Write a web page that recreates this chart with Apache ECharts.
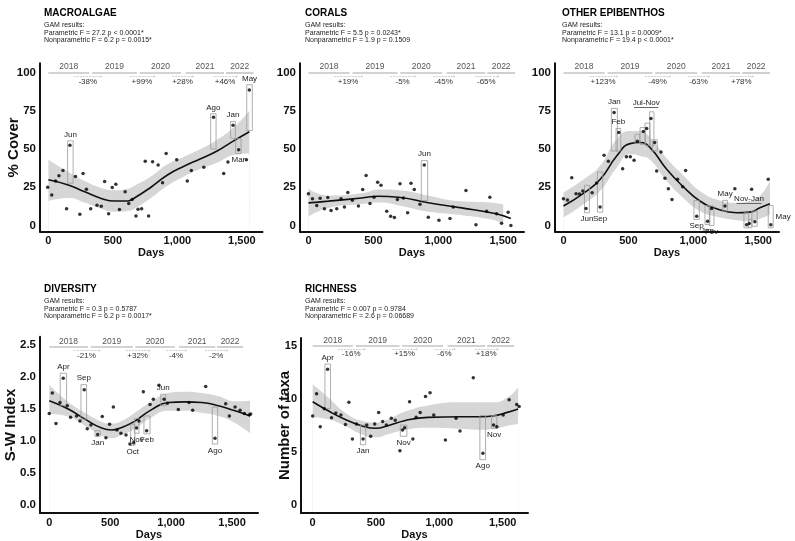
<!DOCTYPE html>
<html lang="en">
<head>
<meta charset="UTF-8">
<script src="https://cdn.jsdelivr.net/npm/echarts@6/dist/echarts.min.js"></script>
<title>GAM time series</title>
<style>
  html, body { margin: 0; padding: 0; background: #fff; }
  #main { width: 795px; height: 541px; }
</style>
</head>
<body>
<div id="main"></div>
<script>
// ---- shared axis stuff ----
const dayTicks = [0, 500, 1000, 1500];
const coverTicks = [0, 25, 50, 75, 100];
const swTicks = [0, 0.5, 1, 1.5, 2, 2.5];
const taxaTicks = [0, 5, 10, 15];
const yearLabels = ['2018', '2019', '2020', '2021', '2022'];
const yearSpans = [[0, 317], [340, 686], [707, 1030], [1065, 1362], [1377, 1591]];
const pctSpans = [[200, 410], [630, 820], [960, 1120], [1280, 1460]];

// ---- MACROALGAE ----
const macroPoints = [[-5,25],[26,20],[56,29],[82,32.5],[113,36],[141,11],[167,52.4],[210,32],[244,7.3],[269,34],[295,23.7],[328,11],[377,13.3],[410,12.6],[436,28.8],[467,7.7],[495,24.8],[523,27],[551,10.4],[595,22],[623,14.4],[649,17],[679,6.2],[695,10.6],[723,11],[751,42],[777,6.2],[808,41.6],[851,39.6],[885,28],[913,47],[995,43],[1077,29],[1108,36],[1205,38],[1280,70.8],[1359,34],[1392,41.5],[1432,65.5],[1475,49.5],[1535,43],[1558,88.6]];
const macroFitDays = [0,154,282,410,513,615,667,795,923,1051,1180,1308,1436,1558];
const macroFit = [29.9,26.5,22,17.7,16,16,18,25,33,38.7,43.6,48.7,55.3,61.3];
const macroUpper = [43,35,29,24.5,23,24,26,32,40,45,50,56,64,75];
const macroLower = [16,18,15,11,9,9.5,11,18,26,32,37,41,46,47];
const macroBoxes = [[149,192,55.3,27.7,'Jun','top'],[1258,1300,73,50,'Ago','top'],[1413,1450,68,57,'Jan','top'],[1452,1494,56.8,47,'Mar','bottom'],[1538,1581,92,62,'May','top']];
const macroPct = ['-38%', '+99%', '+28%', '+46%'];

// ---- CORALS ----
const coralPoints = [[0,20.7],[31,17.4],[64,13],[90,17.8],[123,10.9],[149,18.3],[174,9.8],[218,11],[251,17.4],[277,12],[303,21.5],[338,16.5],[385,12.8],[418,23.5],[444,32.6],[474,14.3],[505,18.5],[533,28.3],[559,26.3],[603,9.3],[633,6.1],[662,5.2],[685,17],[705,27.2],[731,18],[764,8.3],[790,27.6],[815,23.5],[859,13.9],[892,39.6],[923,5.4],[1005,3.5],[1090,4.6],[1115,12],[1213,22.8],[1290,0.4],[1372,9.3],[1397,18.5],[1449,7.6],[1487,1.5],[1538,8.7],[1559,0]];
const coralFitDays = [0,154,410,538,692,923,1180,1436,1559];
const coralFit = [14.8,15.9,18,19.1,18.5,14.8,11.5,7.8,4.6];
const coralBandDays = [0,154,410,550,700,900,1150,1400,1500];
const coralUpper = [24,19.5,21,23.5,23,20,16,15,13.7];
const coralLower = [6,11.5,14,15,13,9.3,7,4,1.3];
const coralBoxes = [[869,918,42.4,16.3,'Jun','top']];
const coralPct = ['+19%', '-5%', '-45%', '-65%'];

// ---- OTHER EPIBENTHOS ----
const epiPoints = [[0,17.5],[31,16.6],[64,31.2],[97,20.8],[123,20.5],[149,22.5],[174,11.1],[221,21.4],[256,27.7],[282,12],[313,45.9],[346,42],[390,73.9],[426,60.7],[456,37.1],[485,45],[515,45],[544,42.6],[569,55],[615,61.4],[641,63.4],[674,69.9],[703,54.2],[718,35.6],[751,48],[782,30.8],[808,24],[836,17],[879,30.2],[918,25.3],[941,36],[1026,6.1],[1110,2.8],[1141,11.1],[1244,12.7],[1320,24],[1410,0.4],[1431,1.3],[1449,23.6],[1474,2.4],[1577,30.2],[1597,0.4]];
const epiFitDays = [0,154,282,410,513,590,667,795,923,1051,1180,1333,1436,1513,1590];
const epiFit = [12.7,21,30,45.4,53.5,54.2,50.9,36.7,25.3,16,10.9,8.3,8.7,11.6,14.2];
const epiUpper = [21.4,30,39,56.4,61.8,61.8,57.5,44,32.8,22.5,17,14.9,16,19.2,29];
const epiLower = [5,13.8,22.5,37.8,46.5,45.4,43,29,18,9.4,5.7,3.5,2.8,4.4,7.2];
const epiBoxes = [[162,200,26.2,8.3,'Jun','bottom'],[262,303,35,8.7,'Sep','bottom'],[369,415,76.5,48.7,'Jan','top'],[405,441,63.4,48.7,'Feb','top'],
  [551,587,59.6,53.8,'',''],[590,631,64,53,'',''],[628,667,66.9,52.4,'',''],[664,697,74.3,52,'',''],[685,723,56,48.7,'',''],
  [1005,1046,16.4,3.9,'Sep','bottom'],[1090,1128,13,0.7,'Jan','bottom'],[1123,1159,12.7,0,'Fev','bottom'],[1226,1264,16.4,9.4,'May','top'],
  [1390,1426,8.3,-1.5,'',''],[1426,1451,4,-1.5,'',''],[1451,1492,9.4,-0.5,'',''],[1577,1615,13,-1.5,'May','right']];
const epiGroups = [[544,731,77,'Jul-Nov'],[1333,1525,14.4,'Nov-Jan']];
const epiPct = ['+123%', '-49%', '-63%', '+78%'];

// ---- DIVERSITY ----
const divPoints = [[0,1.43],[25,1.75],[55,1.27],[88,1.60],[115,1.98],[148,1.55],[175,1.37],[224,1.39],[252,1.31],[287,1.80],[312,1.19],[342,1.25],[397,1.10],[435,1.38],[465,1.05],[495,1.26],[526,1.53],[556,1.17],[588,1.12],[630,1.09],[662,0.95],[692,0.97],[717,1.20],[736,1.31],[772,1.77],[799,1.16],[827,1.57],[854,1.65],[900,1.87],[942,1.65],[969,1.59],[1059,1.49],[1147,1.60],[1177,1.48],[1284,1.85],[1360,1.04],[1448,1.58],[1478,1.39],[1525,1.53],[1566,1.48],[1601,1.43],[1642,1.41],[1653,1.42]];
const divFitDays = [0,156,293,430,512,594,703,840,977,1114,1251,1388,1525,1648];
const divFit = [1.63,1.50,1.34,1.20,1.17,1.21,1.31,1.49,1.60,1.61,1.60,1.55,1.47,1.39];
const divUpper = [1.88,1.61,1.44,1.30,1.27,1.31,1.44,1.62,1.75,1.77,1.75,1.70,1.62,1.63];
const divLower = [1.42,1.38,1.24,1.08,1.04,1.09,1.19,1.37,1.47,1.47,1.44,1.39,1.28,1.12];
const divBoxes = [[90,142,2.06,1.55,'Apr','top'],[260,306,1.88,1.34,'Sep','top'],[375,419,1.16,1.07,'Jan','bottom'],[668,703,1.26,0.93,'Oct','bottom'],
  [698,736,1.35,1.12,'Nov','bottom'],[777,827,1.39,1.11,'Feb','bottom'],[915,956,1.73,1.55,'Jun','top'],[1338,1382,1.53,0.95,'Ago','bottom']];
const divPct = ['-21%', '+32%', '-4%', '-2%'];

// ---- RICHNESS ----
const richPoints = [[0,8.4],[31,10.5],[60,7.4],[92,9.1],[118,12.8],[149,8.25],[183,8.7],[223,8.5],[259,7.6],[286,9.7],[314,6.25],[346,7.65],[398,6.25],[427,7.56],[458,6.5],[490,7.65],[521,8.75],[553,7.9],[582,7.56],[621,8.2],[652,8.0],[689,5.15],[710,7.1],[726,7.3],[765,9.75],[791,6.25],[817,8.3],[849,8.75],[891,10.25],[927,10.6],[956,8.5],[1048,6.15],[1132,8.2],[1163,7.0],[1268,12.0],[1344,4.9],[1428,7.56],[1454,7.4],[1504,8.5],[1551,9.94],[1611,9.5],[1630,9.3]];
const richFitDays = [0,123,254,385,498,595,726,909,1171,1328,1433,1538,1622];
const richFit = [9.75,8.9,8.1,7.5,7.25,7.5,7.97,8.28,8.34,8.34,8.44,8.75,9.06];
const richUpper = [11.4,10.15,8.75,7.97,7.8,8.1,8.8,9.4,9.7,9.7,9.7,10.15,11.1];
const richLower = [8.3,8.1,7.5,6.7,6.4,6.7,7.1,7.3,7.2,7.1,7.2,7.5,7.65];
const richBoxes = [[97,141,13.3,9.1,'Apr','top'],[377,419,7.56,5.7,'Jan','bottom'],[692,744,7.56,6.5,'Nov','bottom'],[1320,1365,8.44,4.3,'Ago','bottom'],[1412,1454,8.44,7.25,'Nov','bottom']];
const richPct = ['-16%', '+15%', '-6%', '+18%'];

const FONT = '"Liberation Sans", Arial, sans-serif';

const panels = [
  {title:'MACROALGAE', sub:'GAM results:\nParametric F = 27.2 p < 0.0001*\nNonparametric F = 6.2 p = 0.0015*', tl:39, tt:3,
   left:40, top:63.3, width:222.5, height:168.3, xMin:-65, xMax:1660, yMin:-4, yMax:106, yTicks:coverTicks, yName:'% Cover', yGap:19, yFont:11.5,
   points:macroPoints, fitDays:macroFitDays, fit:macroFit, bandDays:macroFitDays, upper:macroUpper, lower:macroLower,
   boxes:macroBoxes, groups:[], pct:macroPct, yearY:99.9, pctY:97.4, dec:0},
  {title:'CORALS', sub:'GAM results:\nParametric F = 5.5 p = 0.0243*\nNonparametric F = 1.9 p = 0.1509', tl:300, tt:3,
   left:300, top:63.3, width:224, height:168.3, xMin:-65, xMax:1660, yMin:-4, yMax:106, yTicks:coverTicks, yName:'', yGap:19, yFont:11.5,
   points:coralPoints, fitDays:coralFitDays, fit:coralFit, bandDays:coralBandDays, upper:coralUpper, lower:coralLower,
   boxes:coralBoxes, groups:[], pct:coralPct, yearY:99.9, pctY:97.4, dec:0},
  {title:'OTHER EPIBENTHOS', sub:'GAM results:\nParametric F = 13.1 p = 0.0009*\nNonparametric F = 19.4 p < 0.0001*', tl:557, tt:3,
   left:555, top:63.3, width:224, height:168.3, xMin:-65, xMax:1660, yMin:-4, yMax:106, yTicks:coverTicks, yName:'', yGap:19, yFont:11.5,
   points:epiPoints, fitDays:epiFitDays, fit:epiFit, bandDays:epiFitDays, upper:epiUpper, lower:epiLower,
   boxes:epiBoxes, groups:epiGroups, pct:epiPct, yearY:99.9, pctY:97.4, dec:0},
  {title:'DIVERSITY', sub:'GAM results:\nParametric F = 0.3 p = 0.5787\nNonparametric F = 6.2 p = 0.0017*', tl:39, tt:279,
   left:40, top:336.8, width:218, height:178.3, xMin:-76, xMax:1713, yMin:-0.13, yMax:2.63, yTicks:swTicks, yName:'S-W Index', yGap:22, yFont:11.5,
   points:divPoints, fitDays:divFitDays, fit:divFit, bandDays:divFitDays, upper:divUpper, lower:divLower,
   boxes:divBoxes, groups:[], pct:divPct, yearY:2.47, pctY:2.415, dec:1},
  {title:'RICHNESS', sub:'GAM results:\nParametric F = 0.007 p = 0.9784\nNonparametric F = 2.6 p = 0.06689', tl:300, tt:279,
   left:301, top:338, width:227, height:177, xMin:-92, xMax:1700, yMin:-0.72, yMax:15.75, yTicks:taxaTicks, yName:'Number of taxa', yGap:9, yFont:11,
   points:richPoints, fitDays:richFitDays, fit:richFit, bandDays:richFitDays, upper:richUpper, lower:richLower,
   boxes:richBoxes, groups:[], pct:richPct, yearY:15, pctY:14.7, dec:0}
];

const titles = [], grids = [], xAxes = [], yAxes = [], series = [];

panels.forEach(function (p, i) {
  titles.push({
    text: p.title, subtext: p.sub, left: p.tl, top: p.tt, itemGap: 3,
    textStyle: {fontFamily: FONT, fontSize: 10, fontWeight: 'bold', color: '#000'},
    subtextStyle: {fontFamily: FONT, fontSize: 7, lineHeight: 7.8, color: '#222'}
  });
  grids.push({left: p.left, top: p.top, width: p.width, height: p.height});
  xAxes.push({
    gridIndex: i, type: 'value', min: p.xMin, max: p.xMax, z: 8,
    name: 'Days', nameLocation: 'middle', nameGap: 16, nameMoveOverlap: false,
    nameTextStyle: {fontFamily: FONT, fontSize: 11, fontWeight: 'bold', color: '#111'},
    axisLine: {onZero: false, lineStyle: {color: '#111', width: 2}},
    axisTick: {show: false}, splitLine: {show: false},
    axisLabel: {customValues: dayTicks, fontFamily: FONT, fontSize: 11, fontWeight: 'bold', color: '#111', margin: 4}
  });
  yAxes.push({
    gridIndex: i, type: 'value', min: p.yMin, max: p.yMax, z: 8,
    name: p.yName, nameLocation: 'middle', nameRotate: 90, nameGap: p.yGap, nameMoveOverlap: false,
    nameTextStyle: {fontFamily: FONT, fontSize: 15, fontWeight: 'bold', color: '#111'},
    axisLine: {onZero: false, lineStyle: {color: '#111', width: 2}},
    axisTick: {show: false}, splitLine: {show: false},
    axisLabel: {customValues: p.yTicks, fontFamily: FONT, fontSize: p.yFont, fontWeight: 'bold', color: '#111', margin: 4,
      formatter: function (v) { return Number(v).toFixed(p.dec); }}
  });

  // confidence band: grey area under the upper bound, then white area under the lower bound
  series.push({
    type: 'line', xAxisIndex: i, yAxisIndex: i, smooth: true, symbol: 'none', silent: true, z: 1,
    lineStyle: {opacity: 0}, areaStyle: {color: '#d6d6d6', opacity: 1, origin: 'start'},
    data: p.bandDays.map(function (d, k) { return [d, p.upper[k]]; })
  });
  series.push({
    type: 'line', xAxisIndex: i, yAxisIndex: i, smooth: true, symbol: 'none', silent: true, z: 1,
    lineStyle: {opacity: 0}, areaStyle: {color: '#ffffff', opacity: 1, origin: 'start'},
    data: p.bandDays.map(function (d, k) { return [d, p.lower[k]]; })
  });
  // fitted GAM curve
  series.push({
    type: 'line', xAxisIndex: i, yAxisIndex: i, smooth: true, symbol: 'none', silent: true, z: 3,
    lineStyle: {color: '#111', width: 1.6},
    data: p.fitDays.map(function (d, k) { return [d, p.fit[k]]; })
  });

  // year bars, % change lines, group underlines
  const lines = [];
  yearSpans.forEach(function (s, k) {
    lines.push([{coord: [s[0], p.yearY], name: yearLabels[k],
      lineStyle: {color: '#c4c4c4', width: 1.6, type: 'solid'},
      label: {show: true, position: 'insideMiddleTop', formatter: '{b}', fontFamily: FONT, fontSize: 8.5, color: '#555', distance: 1}},
      {coord: [s[1], p.yearY]}]);
  });
  pctSpans.forEach(function (s, k) {
    lines.push([{coord: [s[0], p.pctY], name: p.pct[k],
      lineStyle: {color: '#cfcfcf', width: 1, type: [2, 1]},
      label: {show: true, position: 'insideMiddleBottom', formatter: '{b}', fontFamily: FONT, fontSize: 8, color: '#333', distance: 1}},
      {coord: [s[1], p.pctY], symbol: 'circle', symbolSize: 2}]);
  });
  p.groups.forEach(function (g) {
    lines.push([{coord: [g[0], g[2]], name: g[3],
      lineStyle: {color: '#666', width: 1, type: 'solid'},
      label: {show: true, position: 'insideMiddleTop', formatter: '{b}', fontFamily: FONT, fontSize: 8, color: '#222', distance: 1}},
      {coord: [g[1], g[2]]}]);
  });

  series.push({
    type: 'scatter', xAxisIndex: i, yAxisIndex: i, symbolSize: 3.5, itemStyle: {color: '#000'},
    data: p.points, z: 5,
    markLine: {silent: true, symbol: ['none', 'none'], animation: false, z: 4, data: lines},
    markArea: {
      silent: true, animation: false, z: 4,
      itemStyle: {color: 'rgba(0,0,0,0)', borderColor: '#9a9a9a', borderWidth: 0.8},
      label: {show: true, fontFamily: FONT, fontSize: 8, color: '#222', distance: 2},
      data: p.boxes.map(function (b) {
        return [{coord: [b[0], b[2]], name: b[4], label: {show: !!b[4], position: b[5] || 'top'}},
                {coord: [b[1], b[3]]}];
      })
    }
  });
});

const chart = echarts.init(document.getElementById('main'));
chart.setOption({
  backgroundColor: '#fff',
  animation: false,
  title: titles,
  grid: grids,
  xAxis: xAxes,
  yAxis: yAxes,
  series: series
});
</script>
</body>
</html>
